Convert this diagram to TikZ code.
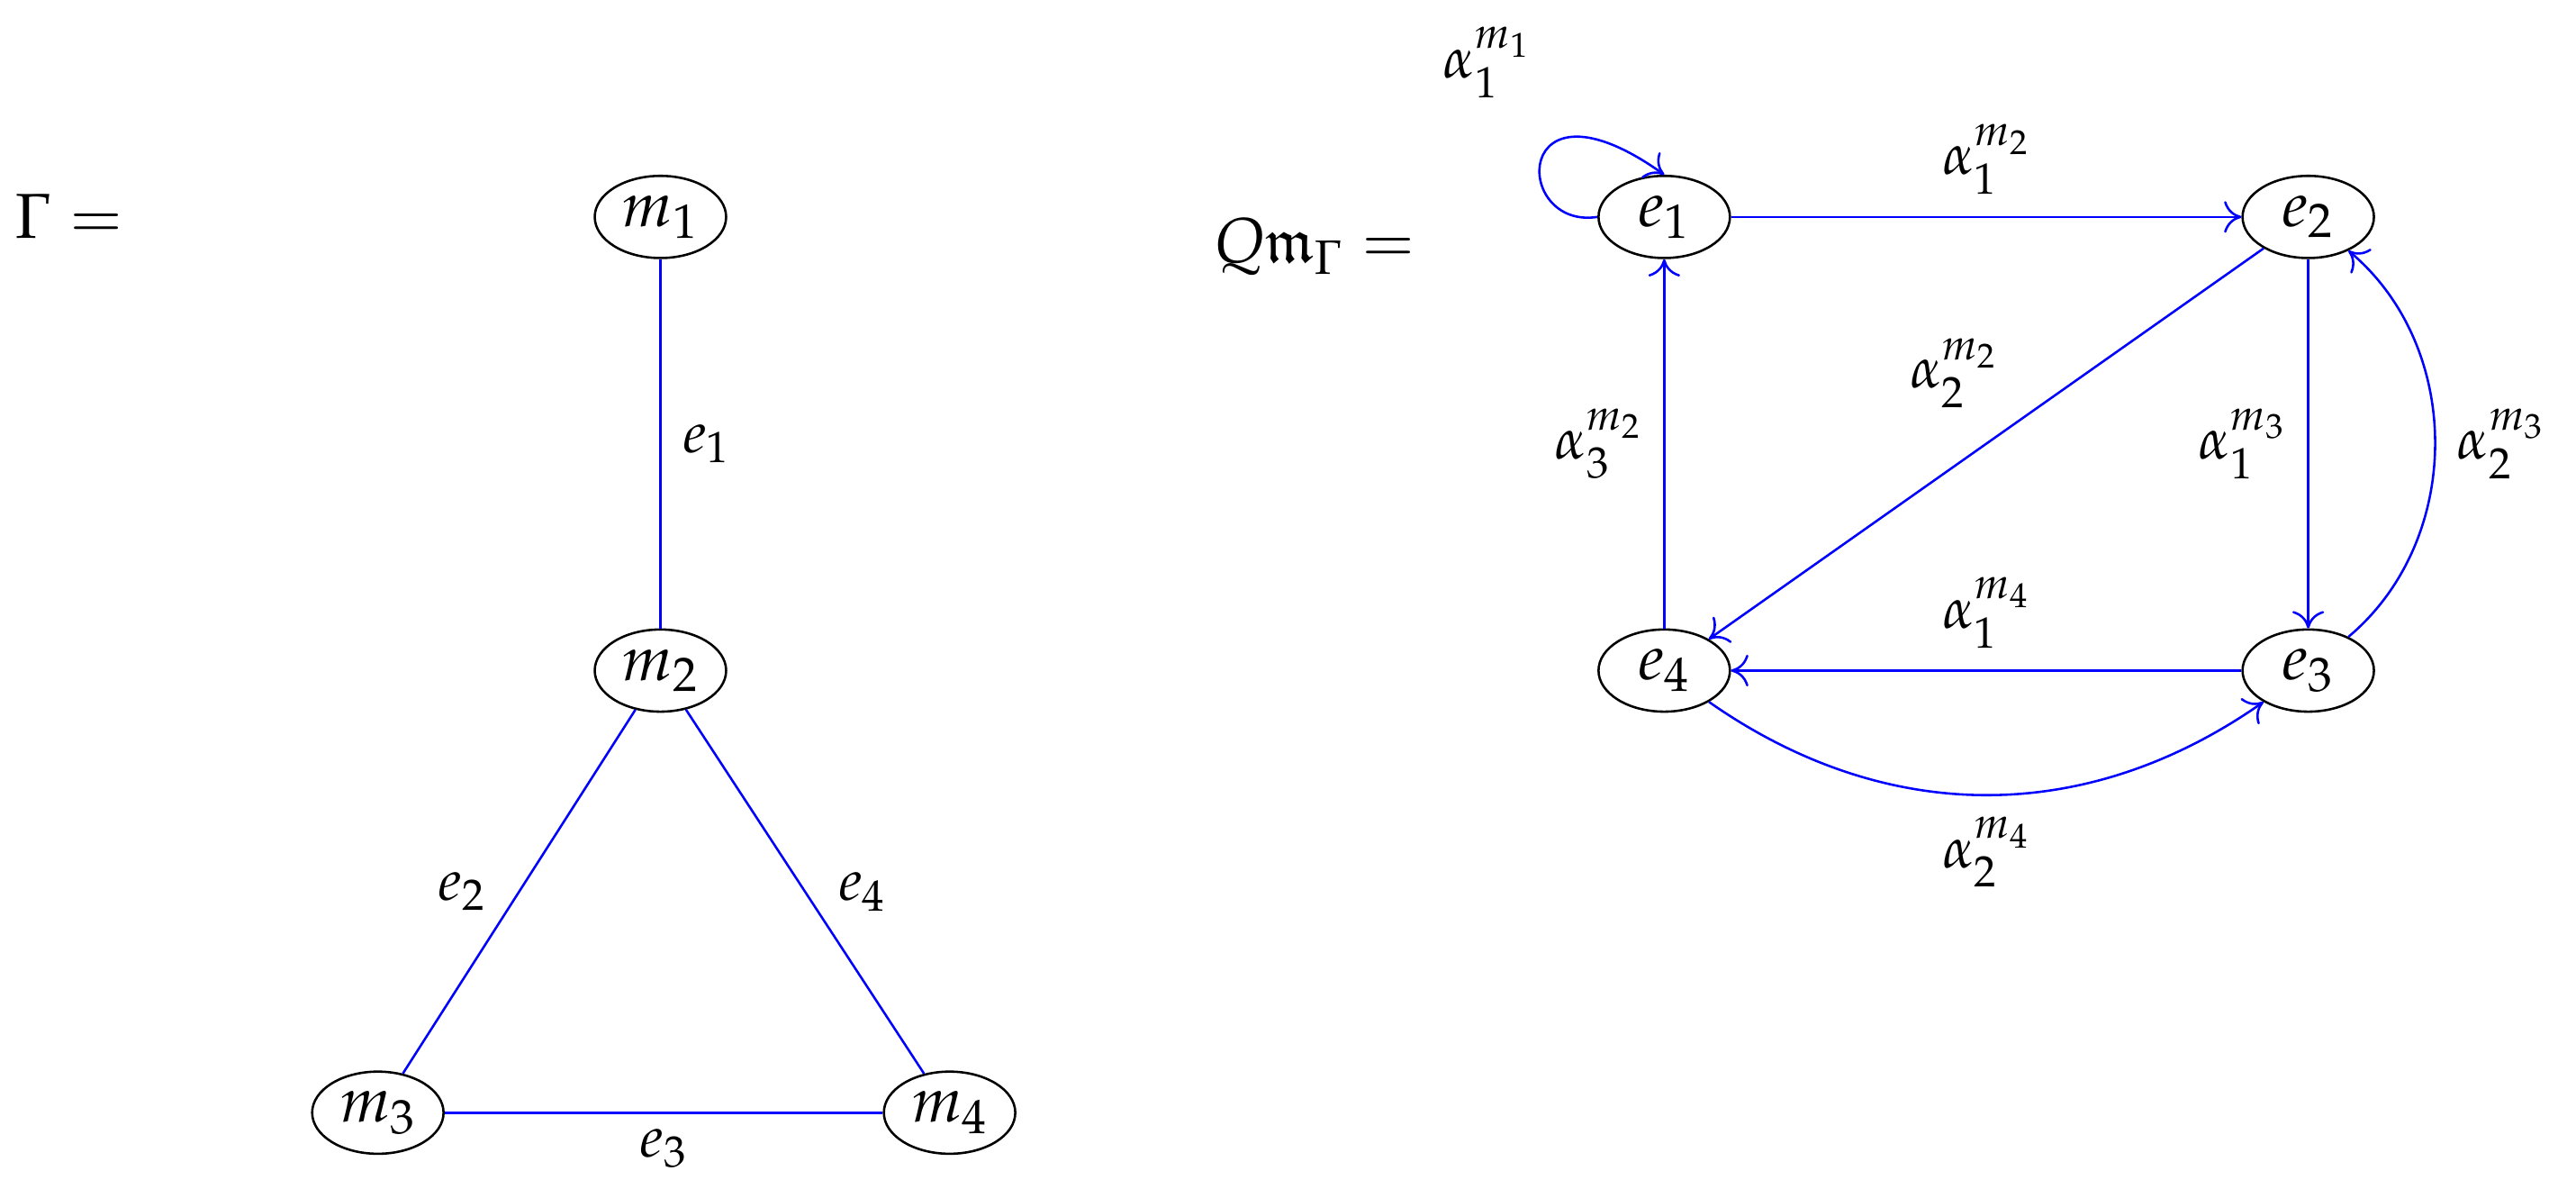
\documentclass[tikz,border=0pt]{standalone}
\usepackage{mathpazo}
\usepackage{amssymb}
\usetikzlibrary{arrows.meta,shapes.geometric}
\begin{document}
\begin{tikzpicture}[x=0.02cm,y=-0.02cm,
  font=\fontsize{22}{26}\selectfont,
  v/.style={ellipse,draw,thick,minimum width=1.6cm,minimum height=1cm,inner sep=1pt},
  ed/.style={blue,thick},
  ar/.style={blue,thick,-{To[length=6pt,width=11pt]}},
  lb/.style={black,font=\fontsize{20}{24}\selectfont}]
\useasboundingbox (0,0) rectangle (1568,723);
\node (G) at (42,132) {$\Gamma=$};
\node[v] (m1) at (402,132) {$m_1$};
\node[v] (m2) at (402,408) {$m_2$};
\node[v] (m3) at (230,677) {$m_3$};
\node[v] (m4) at (578,677) {$m_4$};
\draw[ed] (m1) -- node[lb,right=4pt]{$e_1$} (m2);
\draw[ed] (m2) -- node[lb,left=8pt]{$e_2$} (m3);
\draw[ed] (m2) -- node[lb,right=8pt]{$e_4$} (m4);
\draw[ed] (m3) -- node[lb,below=2pt]{$e_3$} (m4);
\node (Q) at (800,150) {$Q\mathfrak{m}_\Gamma=$};
\node[v] (e1) at (1013,132) {$e_1$};
\node[v] (e2) at (1405,132) {$e_2$};
\node[v] (e3) at (1405,408) {$e_3$};
\node[v] (e4) at (1013,408) {$e_4$};
\draw[ar] (e1) -- node[lb,above=4pt]{$\alpha_1^{m_2}$} (e2);
\draw[ar] (e2) -- node[lb,above left=2pt,pos=0.45]{$\alpha_2^{m_2}$} (e4);
\draw[ar] (e2) -- node[lb,left=4pt]{$\alpha_1^{m_3}$} (e3);
\draw[ar] (e3) to[bend right=50] node[lb,right=4pt]{$\alpha_2^{m_3}$} (e2);
\draw[ar] (e3) -- node[lb,above=4pt]{$\alpha_1^{m_4}$} (e4);
\draw[ar] (e4) to[bend right=35] node[lb,below=4pt]{$\alpha_2^{m_4}$} (e3);
\draw[ar] (e4) -- node[lb,left=4pt]{$\alpha_3^{m_2}$} (e1);
\draw[ar] (e1.west) .. controls (920,140) and (920,40) .. (e1.north);
\node[lb] (l11) at (905,38) {$\alpha_1^{m_1}$};
\end{tikzpicture}
\end{document}
